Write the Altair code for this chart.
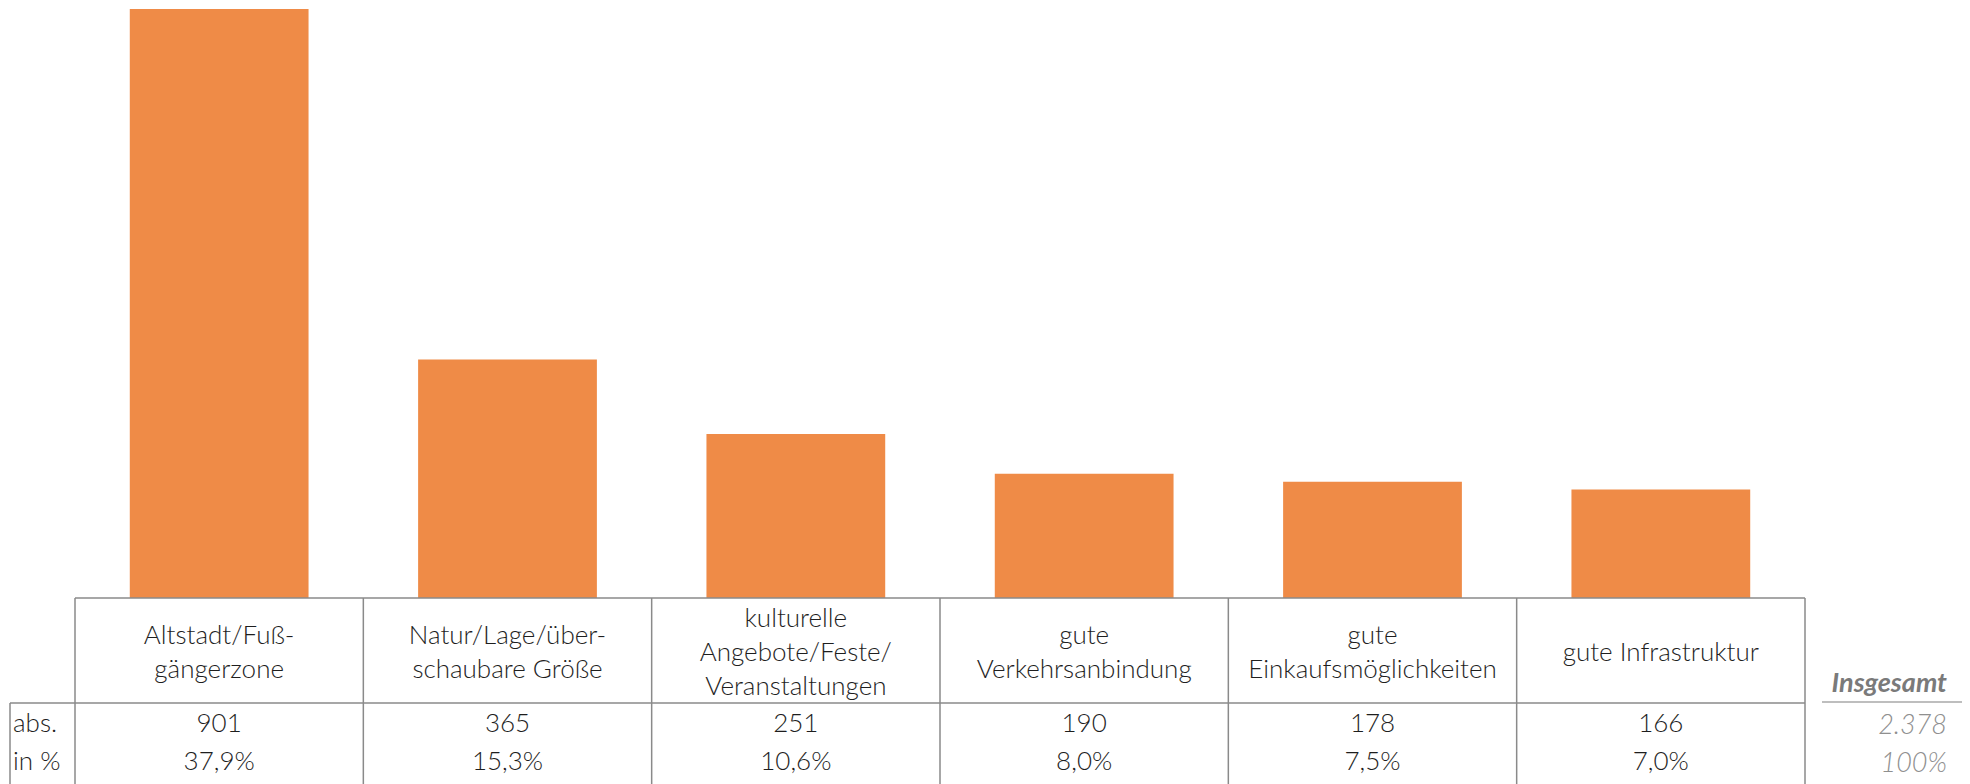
import altair as alt
import pandas as pd

# ---- data ----
categories = [
    "Altstadt/Fuß-\ngängerzone",
    "Natur/Lage/über-\nschaubare Größe",
    "kulturelle\nAngebote/Feste/\nVeranstaltungen",
    "gute\nVerkehrsanbindung",
    "gute\nEinkaufsmöglichkeiten",
    "gute Infrastruktur",
]
abs_values = [901, 365, 251, 190, 178, 166]
pct_labels = ["37,9%", "15,3%", "10,6%", "8,0%", "7,5%", "7,0%"]
row_labels = ["abs.", "in %"]
total_title = "Insgesamt"
total_abs = "2.378"
total_pct = "100%"

df = pd.DataFrame({
    "cat": categories,
    "abs": abs_values,
    "abs_txt": [str(v) for v in abs_values],
    "pct": pct_labels,
})

BAR = "#EF8B47"
LINE = "#8a8a8a"
TXT = "#1e1e1e"
FONT = "Lato"
FW = 300

W, H = 1730, 590
BOTTOM = 790
LH = 34

x_enc = alt.X("cat:N", sort=categories, axis=None,
              scale=alt.Scale(paddingInner=0, paddingOuter=0))

base = alt.Chart(df)

bars = base.mark_bar(color=BAR, width=alt.RelativeBandSize(0.62)).encode(
    x=x_enc,
    y=alt.Y("abs:Q", axis=None, scale=alt.Scale(domain=[0, 902.5], nice=False)),
)

header = base.transform_calculate(
    hy=f"645 - (length(split(datum.cat, '\\n')) - 1) * {LH} / 2"
).mark_text(font=FONT, fontWeight=FW, fontSize=26, color=TXT, lineBreak="\n",
            lineHeight=LH, baseline="middle", align="center").encode(
    x=x_enc, y=alt.Y("hy:Q", scale=None, axis=None), text="cat:N")

abs_txt = base.mark_text(font=FONT, fontWeight=FW, fontSize=26, color=TXT,
                         baseline="alphabetic", align="center").encode(
    x=x_enc, y=alt.value(724), text="abs_txt:N")

pct_txt = base.mark_text(font=FONT, fontWeight=FW, fontSize=26, color=TXT,
                         baseline="alphabetic", align="center").encode(
    x=x_enc, y=alt.value(762), text="pct:N")

# column borders
vlines = base.mark_rule(color=LINE, strokeWidth=1.5).encode(
    x=alt.X("cat:N", sort=categories, axis=None, bandPosition=0,
            scale=alt.Scale(paddingInner=0, paddingOuter=0)),
    y=alt.value(H), y2=alt.value(BOTTOM))
vlast = base.mark_rule(color=LINE, strokeWidth=1.5).encode(
    x=alt.X("cat:N", sort=categories, axis=None, bandPosition=1,
            scale=alt.Scale(paddingInner=0, paddingOuter=0)),
    y=alt.value(H), y2=alt.value(BOTTOM)).transform_filter(
    alt.datum.cat == categories[-1])

frame = pd.DataFrame({"k": [0]})
fb = alt.Chart(frame)
top_line = fb.mark_rule(color=LINE, strokeWidth=1.5).encode(
    x=alt.value(0), x2=alt.value(W), y=alt.value(H))
row_line = fb.mark_rule(color=LINE, strokeWidth=1.5).encode(
    x=alt.value(-65), x2=alt.value(W), y=alt.value(695))
left_line = fb.mark_rule(color=LINE, strokeWidth=1.5).encode(
    x=alt.value(-65), y=alt.value(695), y2=alt.value(BOTTOM))

rows_df = pd.DataFrame({"lab": row_labels, "yy": [724, 762]})
row_txt = alt.Chart(rows_df).mark_text(font=FONT, fontWeight=FW, fontSize=26, color=TXT,
                                       align="left", baseline="alphabetic").encode(
    x=alt.value(-62), y=alt.Y("yy:Q", scale=None, axis=None), text="lab:N")

tot_df = pd.DataFrame({"lab": [total_title], "yy": [684]})
tot_title = alt.Chart(tot_df).mark_text(font=FONT, fontSize=27, color="#7a7a7a",
                                        fontStyle="italic", fontWeight="bold",
                                        align="right", baseline="alphabetic").encode(
    x=alt.value(1872), y=alt.Y("yy:Q", scale=None, axis=None), text="lab:N")
tot_line = fb.mark_rule(color="#a8a8a8", strokeWidth=1.5).encode(
    x=alt.value(1747), x2=alt.value(1890), y=alt.value(694))
totv_df = pd.DataFrame({"lab": [total_abs, total_pct], "yy": [726, 764]})
tot_vals = alt.Chart(totv_df).mark_text(font=FONT, fontWeight=FW, fontSize=27,
                                        color="#8f8f8f", fontStyle="italic",
                                        align="right", baseline="alphabetic").encode(
    x=alt.value(1872), y=alt.Y("yy:Q", scale=None, axis=None), text="lab:N")

chart = alt.layer(
    bars, vlines, vlast, top_line, row_line, left_line,
    header, abs_txt, pct_txt, row_txt, tot_title, tot_line, tot_vals,
).properties(
    width=W, height=H,
    background="white",
    autosize=alt.AutoSizeParams(type="none"),
    padding={"left": 67, "top": 0, "right": 157, "bottom": 186},
).configure_view(strokeWidth=0, stroke="transparent")

chart.save("out.html", embed_options={"renderer": "svg", "actions": False})
